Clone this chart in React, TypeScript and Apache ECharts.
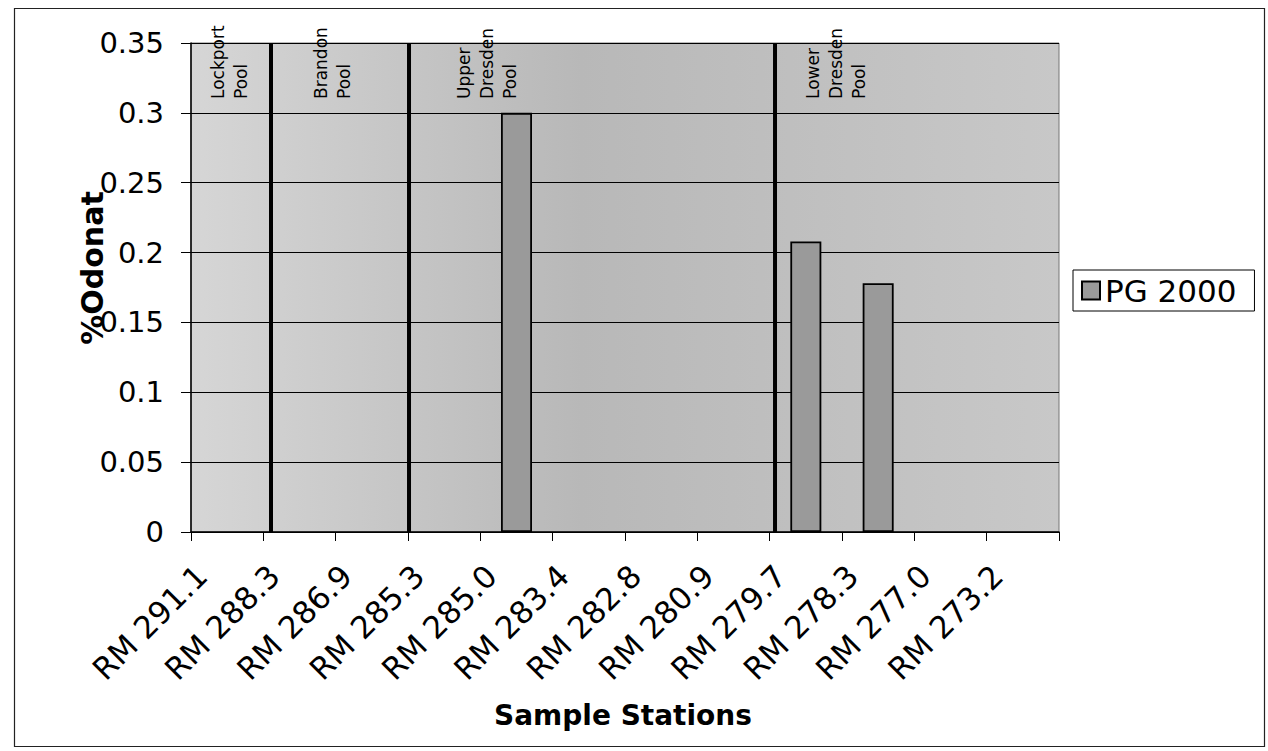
import React, { useEffect, useRef } from "react";
import * as echarts from "echarts";

const categories = [
  "RM 291.1", "RM 288.3", "RM 286.9", "RM 285.3", "RM 285.0", "RM 283.4",
  "RM 282.8", "RM 280.9", "RM 279.7", "RM 278.3", "RM 277.0", "RM 273.2",
];
const pg2000: (number | null)[] = [null, null, null, null, 0.3, null, null, null, 0.208, 0.178, null, null];
const seriesName = "PG 2000";
const yAxisTitle = "%Odonat";
const xAxisTitle = "Sample Stations";
// pool boundary lines, in category units along the axis (0 = left edge, 12 = right edge)
const poolBoundaries = [1.106, 3.014, 8.074];
// pool label start positions (category units) and texts
const poolLabelPos = [0.214, 1.638, 3.615, 8.44];
const poolLabelText = ["Lockport\nPool", "Brandon\nPool", "Upper\nDresden\nPool", "Lower\nDresden\nPool"];

const FONT = "'DejaVu Sans', sans-serif";

export default function App() {
  const ref = useRef<HTMLDivElement>(null);
  useEffect(() => {
    if (!ref.current) return;
    const chart = echarts.init(ref.current, null, { renderer: "svg" });
    const option: any = {
      animation: false,
      backgroundColor: "#ffffff",
      grid: {
        left: 191,
        right: 209,
        top: 43,
        bottom: 219,
        show: true,
        borderColor: "#777",
        borderWidth: 1,
        backgroundColor: new echarts.graphic.LinearGradient(0, 0, 1, 0, [
          { offset: 0, color: "#d6d6d6" },
          { offset: 0.45, color: "#b8b8b8" },
          { offset: 1, color: "#c8c8c8" },
        ]),
      },
      legend: {
        show: true,
        left: 1073,
        top: 270,
        orient: "vertical",
        backgroundColor: "#ffffff",
        borderColor: "#000",
        borderWidth: 1,
        padding: [5, 18, 5, 8],
        itemWidth: 18,
        itemHeight: 18,
        itemGap: 6,
        icon: "rect",
        textStyle: { fontFamily: FONT, fontSize: 31, color: "#000" },
        data: [seriesName],
      },
      xAxis: [
        {
          type: "category",
          data: categories,
          boundaryGap: true,
          axisLine: { show: true, lineStyle: { color: "#000", width: 1.5 } },
          axisTick: { show: true, length: 9, lineStyle: { color: "#000" } },
          axisLabel: {
            rotate: 45,
            margin: 13,
            interval: 0,
            padding: [0, 36, 0, 0],
            fontFamily: FONT,
            fontSize: 31,
            color: "#000",
          },
          splitLine: { show: false },
        },
        {
          type: "value",
          min: 0,
          max: 12,
          show: false,
        },
      ],
      yAxis: {
        type: "value",
        min: 0,
        max: 0.35,
        interval: 0.05,
        axisLine: { show: true, lineStyle: { color: "#000", width: 1.5 } },
        axisTick: { show: true, length: 10, lineStyle: { color: "#000" } },
        axisLabel: {
          margin: 27,
          fontFamily: FONT,
          fontSize: 29,
          color: "#000",
          formatter: (v: number) => String(+v.toFixed(2)),
        },
        splitLine: { show: true, lineStyle: { color: "#000", width: 1 } },
      },
      series: [
        {
          name: seriesName,
          type: "bar",
          xAxisIndex: 0,
          data: pg2000,
          barWidth: 31,
          itemStyle: { color: "#9a9a9a", borderColor: "#000", borderWidth: 1.8 },
        },
        {
          type: "custom",
          xAxisIndex: 1,
          data: poolBoundaries.map((x) => [x]),
          silent: true,
          renderItem: (params: any, api: any) => {
            const x = api.value(0);
            const p0 = api.coord([x, 0]);
            const p1 = api.coord([x, 0.35]);
            return {
              type: "line",
              shape: { x1: p0[0], y1: p0[1], x2: p1[0], y2: p1[1] },
              style: { stroke: "#000", lineWidth: 4 },
            };
          },
        },
        {
          type: "custom",
          xAxisIndex: 1,
          data: poolLabelPos.map((x, i) => [x, i]),
          silent: true,
          clip: false,
          renderItem: (params: any, api: any) => {
            const x = api.value(0);
            const idx = api.value(1);
            const top = api.coord([x, 0.35]);
            return {
              type: "text",
              x: top[0],
              y: top[1] + 56,
              rotation: Math.PI / 2,
              style: {
                text: poolLabelText[idx],
                fontFamily: FONT,
                fontSize: 17,
                lineHeight: 23,
                fill: "#000",
                align: "left",
                verticalAlign: "top",
              },
            };
          },
        },
      ],
      graphic: [
        {
          type: "rect",
          left: 12,
          top: 6,
          shape: { width: 1250, height: 738 },
          style: { fill: "none", stroke: "#222", lineWidth: 1.2 },
          silent: true,
        },
        {
          type: "text",
          x: 92,
          y: 268,
          rotation: Math.PI / 2,
          style: {
            text: yAxisTitle,
            fontFamily: FONT,
            fontSize: 30,
            fontWeight: "bold",
            fill: "#000",
            align: "center",
            verticalAlign: "middle",
          },
        },
        {
          type: "text",
          x: 623,
          y: 715,
          style: {
            text: xAxisTitle,
            fontFamily: FONT,
            fontSize: 28,
            fontWeight: "bold",
            fill: "#000",
            align: "center",
            verticalAlign: "middle",
          },
        },
      ],
    };
    chart.setOption(option);
    return () => chart.dispose();
  }, []);
  return (
    <div
      ref={ref}
      style={{ position: "fixed", left: 0, top: 0, width: 1268, height: 751 }}
    />
  );
}
